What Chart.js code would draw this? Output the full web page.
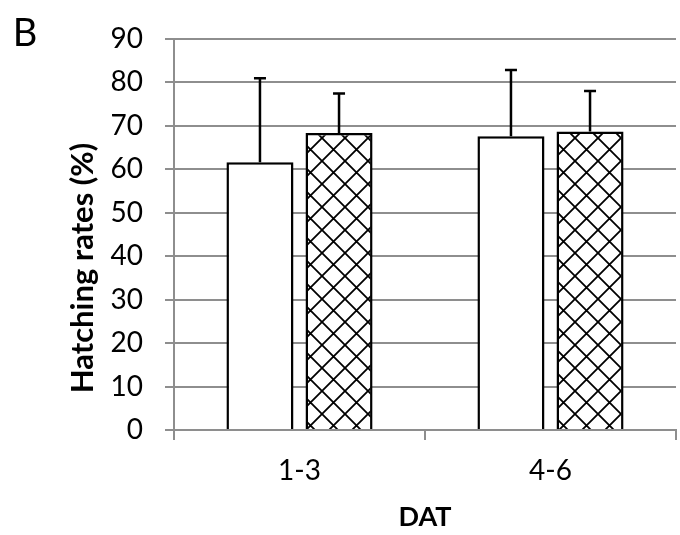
<!DOCTYPE html>
<html>
<head>
<meta charset="utf-8">
<script src="https://cdn.jsdelivr.net/npm/chart.js@4/dist/chart.umd.min.js"></script>
<style>
  html, body { margin: 0; padding: 0; background: #fff; }
  #wrap { width: 680px; height: 535px; }
</style>
</head>
<body>
<div id="wrap"><canvas id="chart" width="680" height="535"></canvas></div>
<script>
// hatching rate by days after treatment
const categories = ["1-3", "4-6"];
const openValues = [61.6, 67.6];
const hatchedValues = [68.3, 68.7];
const openErrors = [19.3, 15.2];
const hatchedErrors = [9.1, 9.3];
const yTicks = [0, 10, 20, 30, 40, 50, 60, 70, 80, 90];

const FONT = "Lato, 'Open Sans', sans-serif";
const GRID = "#8e8e8e";

// diamond cross-hatch fill
function makeHatch() {
    const size = 23;
    const c = document.createElement("canvas");
    c.width = size;
    c.height = size;
    const g = c.getContext("2d");
    g.fillStyle = "#fff";
    g.fillRect(0, 0, size, size);
    g.strokeStyle = "#000";
    g.lineWidth = 1.8;
    g.beginPath();
    g.moveTo(0, 0); g.lineTo(size, size);
    g.moveTo(size, 0); g.lineTo(0, size);
    g.stroke();
    return document.getElementById("chart").getContext("2d").createPattern(c, "repeat");
}

// upward-only error bars
const errorBars = {
    id: "errorBars",
    afterDatasetsDraw(chart) {
        const ctx = chart.ctx;
        const y = chart.scales.y;
        ctx.save();
        ctx.strokeStyle = "#000";
        ctx.lineWidth = 2.5;
        chart.data.datasets.forEach((ds, i) => {
            const meta = chart.getDatasetMeta(i);
            meta.data.forEach((bar, j) => {
                const top = y.getPixelForValue(ds.data[j] + ds.errors[j]);
                ctx.beginPath();
                ctx.moveTo(bar.x, bar.y);
                ctx.lineTo(bar.x, top);
                ctx.moveTo(bar.x - 6, top);
                ctx.lineTo(bar.x + 6, top);
                ctx.stroke();
            });
        });
        ctx.restore();
    }
};

// panel letter and axis titles
const labels = {
    id: "labels",
    afterDraw(chart) {
        const ctx = chart.ctx;
        ctx.save();
        ctx.fillStyle = "#000";
        ctx.textAlign = "center";
        ctx.textBaseline = "middle";

        ctx.font = "38px " + FONT;
        ctx.fillText("B", 25, 34);

        ctx.font = "bold 27px " + FONT;
        ctx.fillText("DAT", 425, 517);

        ctx.font = "bold 31px " + FONT;
        ctx.translate(83, 268);
        ctx.rotate(-Math.PI / 2);
        ctx.fillText("Hatching rates (%)", 0, 0);
        ctx.restore();
    }
};

new Chart(document.getElementById("chart"), {
    type: "bar",
    data: {
        labels: categories,
        datasets: [
            {
                data: openValues,
                errors: openErrors,
                backgroundColor: "#fff",
                borderColor: "#000",
                borderWidth: 2.5
            },
            {
                data: hatchedValues,
                errors: hatchedErrors,
                backgroundColor: makeHatch(),
                borderColor: "#000",
                borderWidth: 2.5
            }
        ]
    },
    options: {
        responsive: false,
        animation: false,
        layout: { padding: { top: 26, right: 4, left: 0, bottom: 0 } },
        datasets: {
            bar: { categoryPercentage: 0.63, barPercentage: 0.848 }
        },
        plugins: {
            legend: { display: false },
            tooltip: { enabled: false }
        },
        scales: {
            x: {
                afterFit(scale) { scale.height = 105; },
                grid: {
                    offset: true,
                    drawOnChartArea: false,
                    color: GRID,
                    lineWidth: 2,
                    tickLength: 10
                },
                border: { color: GRID, width: 2 },
                ticks: {
                    color: "#000",
                    padding: 14,
                    font: { family: FONT, size: 28 }
                }
            },
            y: {
                min: 0,
                max: 90,
                afterFit(scale) { scale.width = 174; },
                afterBuildTicks(scale) {
                    scale.ticks = yTicks.map(v => ({ value: v }));
                },
                grid: {
                    color: GRID,
                    lineWidth: 2,
                    tickLength: 9
                },
                border: { color: GRID, width: 2 },
                ticks: {
                    color: "#000",
                    padding: 22,
                    font: { family: FONT, size: 28 }
                }
            }
        }
    },
    plugins: [errorBars, labels]
});
</script>
</body>
</html>
